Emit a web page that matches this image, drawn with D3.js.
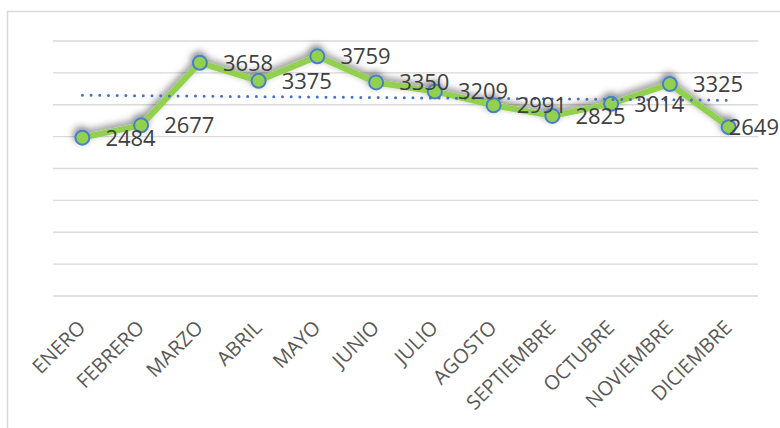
<!DOCTYPE html>
<html>
<head>
<meta charset="utf-8">
<script src="https://cdn.jsdelivr.net/npm/d3@7"></script>
<style>
  body { margin: 0; background: #fff; }
  svg { display: block; }
</style>
</head>
<body>
<svg id="chart" width="780" height="428"></svg>
<script>
// months and values
const months = ['ENERO', 'FEBRERO', 'MARZO', 'ABRIL', 'MAYO', 'JUNIO', 'JULIO',
    'AGOSTO', 'SEPTIEMBRE', 'OCTUBRE', 'NOVIEMBRE', 'DICIEMBRE'];
const values = [2484, 2677, 3658, 3375, 3759, 3350, 3209, 2991, 2825, 3014, 3325, 2649];
const gridTicks = [0, 500, 1000, 1500, 2000, 2500, 3000, 3500, 4000];

const width = 780;
const height = 428;
const margin = { top: 41, right: 22, bottom: 132, left: 53 };

let svg = d3.select('#chart');

// outer chart frame (cut off on the right and bottom like the screenshot)
svg.append('rect')
    .attr('x', 7.5).attr('y', 11.5)
    .attr('width', 900).attr('height', 600)
    .attr('fill', 'none')
    .attr('stroke', '#d9d9d9')
    .attr('stroke-width', 1.5);

let x = d3.scalePoint()
    .domain(months)
    .range([margin.left, width - margin.right])
    .padding(0.5);

let y = d3.scaleLinear()
    .domain([0, 4000])
    .range([height - margin.bottom, margin.top]);

// shadow under the series
let defs = svg.append('defs');
let filter = defs.append('filter')
    .attr('id', 'shadow')
    .attr('x', '-20%').attr('y', '-50%')
    .attr('width', '140%').attr('height', '200%');
filter.append('feDropShadow')
    .attr('dx', -1).attr('dy', -3)
    .attr('stdDeviation', 3.5)
    .attr('flood-color', '#000')
    .attr('flood-opacity', 0.5);

// horizontal gridlines
svg.append('g')
    .selectAll('line')
    .data(gridTicks)
    .join('line')
    .attr('x1', margin.left)
    .attr('x2', width - margin.right)
    .attr('y1', d => y(d))
    .attr('y2', d => y(d))
    .attr('stroke', '#d9d9d9')
    .attr('stroke-width', 1.4);

// x axis labels, rotated
let xAxis = svg.append('g')
    .attr('transform', `translate(0,${height - margin.bottom + 28})`)
    .call(d3.axisBottom(x).tickSize(0).tickPadding(0));
xAxis.select('.domain').remove();
xAxis.selectAll('text')
    .attr('font-family', '"Open Sans", sans-serif')
    .attr('font-size', 20)
    .attr('fill', '#595959')
    .attr('text-anchor', 'end')
    .attr('dy', '0.35em')
    .attr('transform', 'translate(-1,0) rotate(-45)');

let data = months.map((m, i) => ({ month: m, value: values[i] }));

// green series line
let line = d3.line()
    .x(d => x(d.month))
    .y(d => y(d.value));

let series = svg.append('g').attr('filter', 'url(#shadow)');
series.append('path')
    .datum(data)
    .attr('d', line)
    .attr('fill', 'none')
    .attr('stroke', '#92d050')
    .attr('stroke-width', 6)
    .attr('stroke-linejoin', 'round');

// linear trendline (least squares over month index)
let n = values.length;
let xs = d3.range(1, n + 1);
let mx = d3.mean(xs);
let my = d3.mean(values);
let slope = d3.sum(xs, (v, i) => (v - mx) * (values[i] - my)) / d3.sum(xs, v => (v - mx) * (v - mx));
let intercept = my - slope * mx;
let trend = [
    { month: months[0], value: intercept + slope * 1 },
    { month: months[n - 1], value: intercept + slope * n }
];
svg.append('path')
    .datum(trend)
    .attr('d', line)
    .attr('fill', 'none')
    .attr('stroke', '#4472c4')
    .attr('stroke-width', 3)
    .attr('stroke-linecap', 'round')
    .attr('stroke-dasharray', '0 8.7');

// markers
series.selectAll('circle')
    .data(data)
    .join('circle')
    .attr('cx', d => x(d.month))
    .attr('cy', d => y(d.value))
    .attr('r', 7)
    .attr('fill', '#92d050')
    .attr('stroke', '#4a7fc9')
    .attr('stroke-width', 2);

// data labels to the right of each point, pushed back in if they hit the edge
let labels = svg.append('g')
    .selectAll('text')
    .data(data)
    .join('text')
    .attr('x', d => x(d.month) + 23)
    .attr('y', d => y(d.value))
    .attr('dy', '0.36em')
    .attr('font-family', '"Open Sans", sans-serif')
    .attr('font-size', 22)
    .attr('fill', '#404040')
    .text(d => d.value);

labels.each(function () {
    let box = this.getBBox();
    if (box.x + box.width > width - 1) {
        d3.select(this).attr('x', width - 1 - box.width);
    }
});
</script>
</body>
</html>
